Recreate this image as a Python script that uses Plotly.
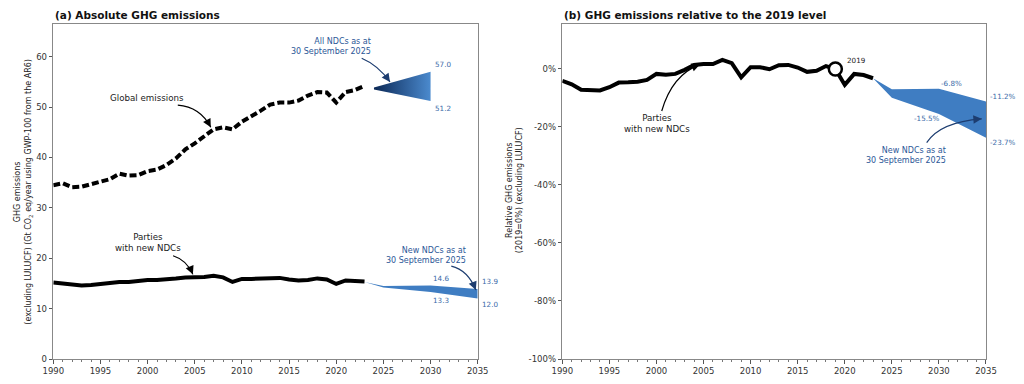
import plotly.graph_objects as go

# ---------------- data ----------------
years_hist = list(range(1990, 2024))
global_emis = [34.5, 34.9, 34.1, 34.2, 34.7, 35.1, 35.7, 36.8, 36.4, 36.5,
               37.3, 37.6, 38.5, 39.8, 41.6, 42.8, 44.2, 45.6, 46.0, 45.6,
               47.1, 48.1, 49.3, 50.5, 50.9, 50.9, 51.3, 52.3, 53.0, 52.9,
               50.9, 53.0, 53.4, 54.2]
parties_emis = [15.2, 15.0, 14.7, 14.6, 14.7, 14.9, 15.2, 15.3, 15.3, 15.5,
                15.7, 15.7, 15.8, 16.0, 16.2, 16.2, 16.3, 16.5, 16.2, 15.3,
                15.9, 15.9, 15.9, 16.1, 16.1, 15.8, 15.6, 15.7, 16.0, 15.8,
                14.9, 15.6, 15.5, 15.4]
parties_rel = [-4.1, -5.3, -7.2, -7.3, -7.4, -6.3, -4.7, -4.6, -4.4, -3.8,
               -1.7, -2.0, -1.7, -0.3, 1.4, 1.7, 1.7, 3.1, 2.0, -2.9,
               0.6, 0.6, -0.1, 1.3, 1.4, 0.5, -1.0, -0.6, 1.0, 0.0,
               -5.5, -1.7, -2.1, -3.2]

all_ndc_years = [2024, 2030]
all_ndc_upper = [53.9, 57.0]
all_ndc_lower = [53.5, 51.2]

new_ndc_years = [2023, 2025, 2030, 2035]
new_ndc_upper = [15.3, 14.5, 14.6, 13.9]
new_ndc_lower = [15.3, 14.2, 13.3, 12.0]
new_ndc_rel_upper = [-3.2, -7.0, -6.8, -11.2]
new_ndc_rel_lower = [-3.2, -9.9, -15.5, -23.7]

base_year = 2019

x_ticks = [1990, 1995, 2000, 2005, 2010, 2015, 2020, 2025, 2030, 2035]
y1_ticks = [0, 10, 20, 30, 40, 50, 60]
y2_ticks = [-100, -80, -60, -40, -20, 0]
y2_ticktext = ["-100%", "-80%", "-60%", "-40%", "-20%", "0%"]

# ---------------- style ----------------
FONT = "DejaVu Sans"
BLUE_TXT = "#2b5797"
BLUE_NUM = "#3b6aa8"
ARROW_BLUE = "#1d3d70"
BAND_BLUE = "#3f7dc2"
TXT = "#222222"

fig = go.Figure()

# Left panel
fig.add_trace(go.Scatter(x=years_hist, y=global_emis, mode="lines",
                         line=dict(color="black", width=4, dash="7px,3px"),
                         xaxis="x", yaxis="y", showlegend=False))
fig.add_trace(go.Scatter(x=all_ndc_years, y=all_ndc_lower, mode="lines",
                         line=dict(width=0, color="#0c2a5c"),
                         xaxis="x", yaxis="y", showlegend=False))
fig.add_trace(go.Scatter(x=all_ndc_years, y=all_ndc_upper, mode="lines",
                         line=dict(width=0, color="#0c2a5c"), fill="tonexty",
                         fillgradient=dict(type="horizontal",
                                           colorscale=[[0, "#0b2856"], [1, "#4b8ace"]]),
                         xaxis="x", yaxis="y", showlegend=False))
fig.add_trace(go.Scatter(x=years_hist, y=parties_emis, mode="lines",
                         line=dict(color="black", width=4),
                         xaxis="x", yaxis="y", showlegend=False))
fig.add_trace(go.Scatter(x=new_ndc_years, y=new_ndc_lower, mode="lines",
                         line=dict(width=0, color=BAND_BLUE),
                         xaxis="x", yaxis="y", showlegend=False))
fig.add_trace(go.Scatter(x=new_ndc_years, y=new_ndc_upper, mode="lines",
                         line=dict(width=0, color=BAND_BLUE), fill="tonexty",
                         fillcolor=BAND_BLUE,
                         xaxis="x", yaxis="y", showlegend=False))

# Right panel
fig.add_trace(go.Scatter(x=new_ndc_years, y=new_ndc_rel_lower, mode="lines",
                         line=dict(width=0, color=BAND_BLUE),
                         xaxis="x2", yaxis="y2", showlegend=False))
fig.add_trace(go.Scatter(x=new_ndc_years, y=new_ndc_rel_upper, mode="lines",
                         line=dict(width=0, color=BAND_BLUE), fill="tonexty",
                         fillcolor=BAND_BLUE,
                         xaxis="x2", yaxis="y2", showlegend=False))
fig.add_trace(go.Scatter(x=years_hist, y=parties_rel, mode="lines",
                         line=dict(color="black", width=4),
                         xaxis="x2", yaxis="y2", showlegend=False))
bi = years_hist.index(base_year)
fig.add_trace(go.Scatter(x=[years_hist[bi]], y=[parties_rel[bi]], mode="markers",
                         marker=dict(symbol="circle", size=13, color="white",
                                     line=dict(color="black", width=2.5)),
                         xaxis="x2", yaxis="y2", showlegend=False, cliponaxis=False))

# ---------------- axes ----------------
ydom = [0.0651, 0.9375]
axis_common = dict(showline=True, mirror=True, linecolor="#888888", linewidth=1.2,
                   showgrid=False, zeroline=False, ticks="outside", ticklen=3.5,
                   tickcolor="#555555", tickwidth=1,
                   tickfont=dict(family=FONT, size=8.5, color="#333333"),
                   automargin=False)
xminor = dict(dtick=1, ticklen=2, ticks="outside", tickcolor="#777777", showgrid=False)

fig.update_layout(
    xaxis=dict(domain=[0.05205, 0.4665], range=[1990, 2035], anchor="y",
               tickvals=x_ticks, minor=xminor, **axis_common),
    yaxis=dict(domain=ydom, range=[0, 66.5], anchor="x", tickvals=y1_ticks, **axis_common),
    xaxis2=dict(domain=[0.54912, 0.96289], range=[1990, 2035], anchor="y2",
                tickvals=x_ticks, minor=xminor, **axis_common),
    yaxis2=dict(domain=ydom, range=[-100, 15.5], anchor="x2", tickvals=y2_ticks,
                ticktext=y2_ticktext, **axis_common),
    width=1024, height=384,
    margin=dict(l=0, r=0, t=0, b=0),
    paper_bgcolor="white", plot_bgcolor="white",
    font=dict(family=FONT, color=TXT),
)

# ---------------- annotations ----------------
ann = []

def txt(text, x, y, xref, yref, size, color, xanchor="center", align="center", xshift=0):
    ann.append(dict(text=text, x=x, y=y, xref=xref, yref=yref, showarrow=False,
                    xanchor=xanchor, yanchor="middle", align=align, xshift=xshift,
                    font=dict(family=FONT, size=size, color=color)))

# titles
txt("<b>(a) Absolute GHG emissions</b>", 0.0518, 0.961, "paper", "paper", 10.5, "#111111", "left", "left")
txt("<b>(b) GHG emissions relative to the 2019 level</b>", 0.549, 0.961, "paper", "paper", 10.5, "#111111", "left", "left")

# y-axis titles
ann.append(dict(text="GHG emissions<br>(excluding LULUCF) (Gt CO<sub>2</sub> eq/year using GWP-100 from the AR6)",
                x=0.0225, y=0.501, xref="paper", yref="paper", showarrow=False, textangle=-90,
                xanchor="center", yanchor="middle", font=dict(family=FONT, size=8, color=TXT)))
ann.append(dict(text="Relative GHG emissions<br>(2019=0%) (excluding LULUCF)",
                x=0.502, y=0.505, xref="paper", yref="paper", showarrow=False, textangle=-90,
                xanchor="center", yanchor="middle", font=dict(family=FONT, size=8, color=TXT)))

# left panel labels
txt("All NDCs as at<br>30 September 2025", 2023.9, 62.1, "x", "y", 8, BLUE_TXT, "right", "right")
txt("57.0", 2030.3, 58.5, "x", "y", 7.2, BLUE_NUM, "left", "left")
txt("51.2", 2030.3, 49.8, "x", "y", 7.2, BLUE_NUM, "left", "left")
txt("Global emissions", 1999.95, 51.8, "x", "y", 8.7, TXT)
txt("Parties<br>with new NDCs", 2000.0, 23.1, "x", "y", 8.7, TXT)
txt("New NDCs as at<br>30 September 2025", 2034.0, 20.6, "x", "y", 8, BLUE_TXT, "right", "right")
txt("14.6", 2031.1, 15.9, "x", "y", 7.2, BLUE_NUM)
txt("13.3", 2031.1, 11.7, "x", "y", 7.2, BLUE_NUM)
txt("13.9", 2035, 15.3, "x", "y", 7.2, BLUE_NUM, "left", "left", 2.5)
txt("12.0", 2035, 10.9, "x", "y", 7.2, BLUE_NUM, "left", "left", 2.5)

# right panel labels
txt("2019", 2020.03, 2.9, "x2", "y2", 7.2, TXT, "left", "left")
txt("Parties<br>with new NDCs", 2000.03, -18.97, "x2", "y2", 8.7, TXT)
txt("-6.8%", 2031.36, -4.93, "x2", "y2", 7.2, BLUE_NUM)
txt("-15.5%", 2028.77, -17.0, "x2", "y2", 7.2, BLUE_NUM)
txt("-11.2%", 2035, -9.55, "x2", "y2", 7.2, BLUE_NUM, "left", "left", 2.5)
txt("-23.7%", 2035, -25.3, "x2", "y2", 7.2, BLUE_NUM, "left", "left", 2.5)
txt("New NDCs as at<br>30 September 2025", 2030.97, -29.8, "x2", "y2", 8, BLUE_TXT, "right", "right")

# curved arrows: (start, control, end, head offset px, refs, color)
arrows = [
    ((2003.2, 50.4), (2005.56, 50.06), (2006.7, 46.0), (-3.8, -7.0), "x", "y", "black"),
    ((2002.7, 20.5), (2004.15, 19.64), (2004.8, 16.8), (-3.1, -7.4), "x", "y", "black"),
    ((2032.2, 18.45), (2033.97, 17.66), (2034.8, 13.7), (-3.0, -7.4), "x", "y", ARROW_BLUE),
    ((2022.7, 59.7), (2024.43, 58.33), (2025.7, 55.0), (-4.6, -6.5), "x", "y", ARROW_BLUE),
    ((2000.56, -14.5), (2001.65, -2.07), (2004.63, 1.6), (-7.5, 2.9), "x2", "y2", "black"),
    ((2028.7, -25.4), (2030.12, -18.28), (2034.55, -17.2), (-8.0, 0.6), "x2", "y2", ARROW_BLUE),
]
shapes = []
for (s, c, e, (hx, hy), xr, yr, col) in arrows:
    shapes.append(dict(type="path", xref=xr, yref=yr,
                       path=f"M {s[0]},{s[1]} Q {c[0]},{c[1]} {e[0]},{e[1]}",
                       line=dict(color=col, width=1.2)))
    ann.append(dict(text="", x=e[0], y=e[1], xref=xr, yref=yr, showarrow=True,
                    ax=hx, ay=hy, arrowhead=2, arrowsize=1.4, arrowwidth=1.2,
                    arrowcolor=col, standoff=0, startstandoff=0))

fig.update_layout(annotations=ann, shapes=shapes)

fig.write_html("out.html", config={"displayModeBar": False},
               post_script="document.body.style.margin='0';")
